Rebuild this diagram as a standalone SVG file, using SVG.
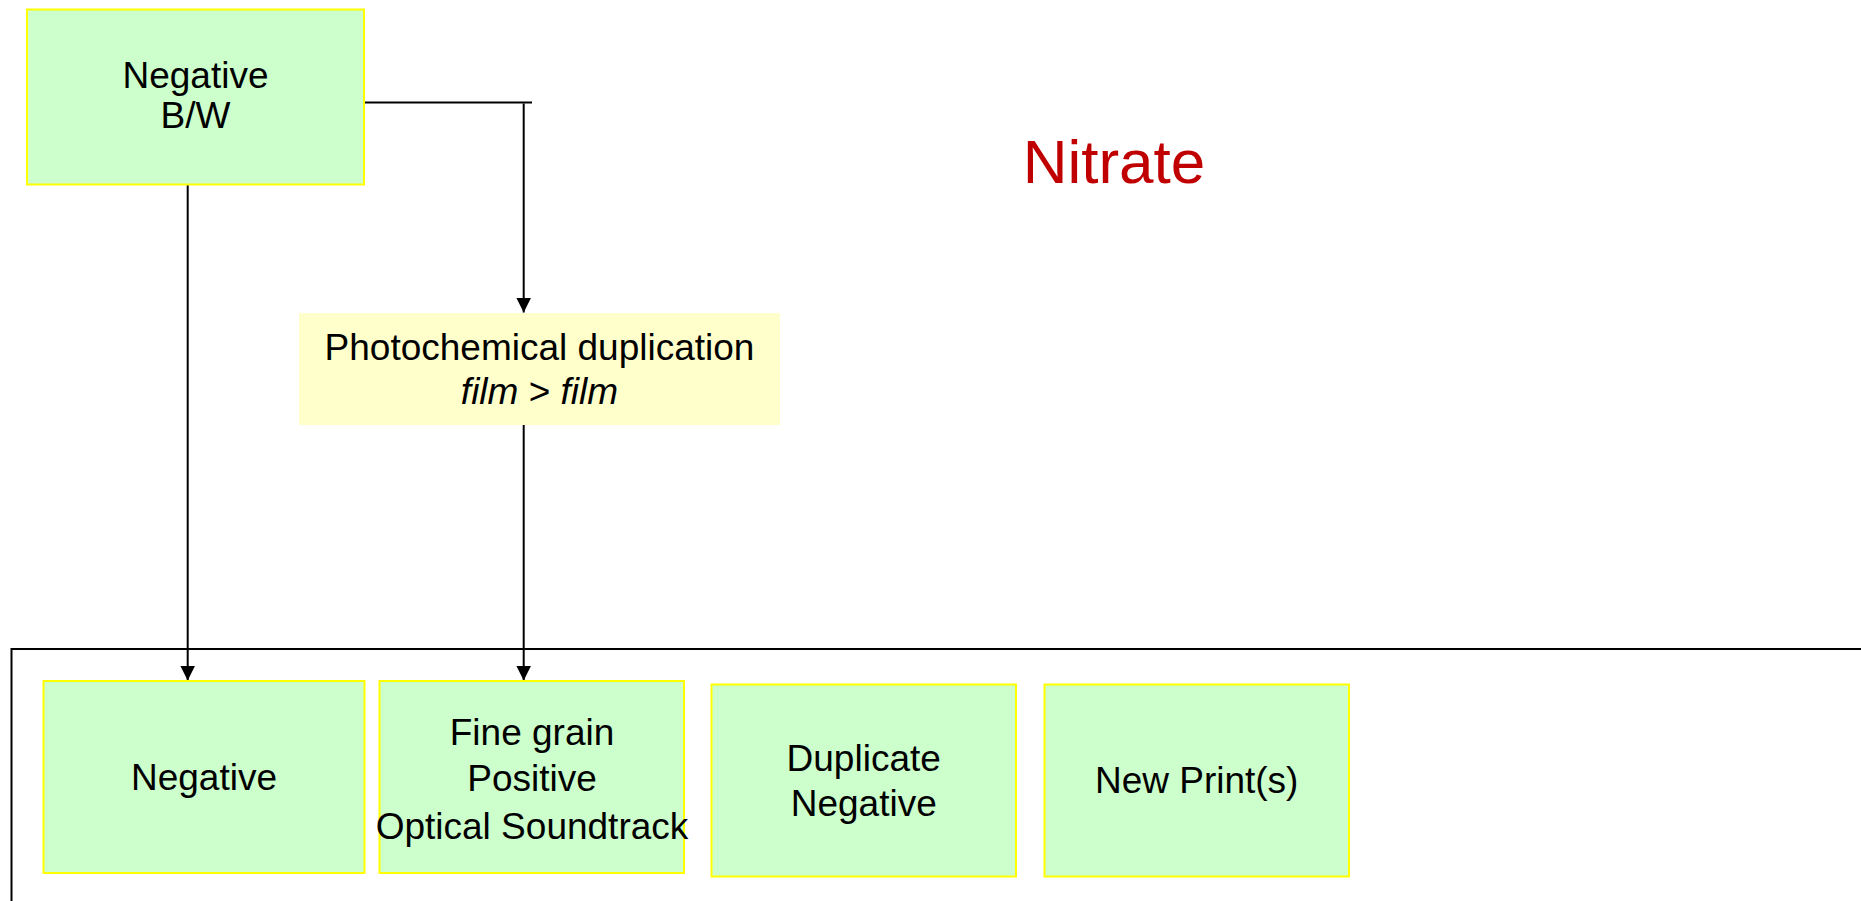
<svg xmlns="http://www.w3.org/2000/svg" width="1861" height="901" viewBox="0 0 1861 901">
  <style>
    .g { fill: #CCFFCC; stroke: #FFFF00; stroke-width: 2; }
    .y { fill: #FFFFCC; stroke: none; }
    .t { font-family: "Liberation Sans", Arial, sans-serif; font-size: 37px; fill: #000; text-anchor: middle; }
    .c { stroke: #000; stroke-width: 2; fill: none; }
    .title { font-family: "Liberation Sans", Arial, sans-serif; font-size: 62px; fill: #C00000; text-anchor: middle; }
  </style>
  <defs>
    <marker id="arr" markerUnits="userSpaceOnUse" markerWidth="15" markerHeight="15" refX="15" refY="7.5" orient="auto">
      <path d="M0,0 L15,7.5 L0,15 z" fill="#000"/>
    </marker>
  </defs>
  <rect width="1861" height="901" fill="#fff"/>

  <g id="frame">
    <rect x="11.5" y="649" width="1900" height="300" class="c"/>
  </g>

  <g id="title">
    <text x="1114" y="183" class="title">Nitrate</text>
  </g>

  <g id="connectors">
    <path d="M364,102.5 L532,102.5" class="c"/>
    <path d="M523.7,103.5 L523.7,312.5" class="c" marker-end="url(#arr)"/>
    <path d="M523.7,425 L523.7,680.5" class="c" marker-end="url(#arr)"/>
    <path d="M187.7,184 L187.7,680.5" class="c" marker-end="url(#arr)"/>
  </g>

  <g id="node-negative-bw">
    <rect x="27" y="9.5" width="337" height="175" class="g"/>
    <text x="195.5" y="88" class="t">Negative</text>
    <text x="195.5" y="128" class="t">B/W</text>
  </g>

  <g id="node-photochemical">
    <rect x="299" y="313" width="481" height="112" class="y"/>
    <text x="539.5" y="360" class="t">Photochemical duplication</text>
    <text x="539.5" y="404" class="t"><tspan font-style="italic">film</tspan> &gt; <tspan font-style="italic">film</tspan></text>
  </g>

  <g id="node-negative">
    <rect x="43.5" y="681" width="321" height="192" class="g"/>
    <text x="204" y="790" class="t">Negative</text>
  </g>

  <g id="node-finegrain">
    <rect x="379.5" y="681" width="304.5" height="192" class="g"/>
    <text x="532" y="745" class="t">Fine grain</text>
    <text x="532" y="791" class="t">Positive</text>
    <text x="532" y="839" class="t">Optical Soundtrack</text>
  </g>

  <g id="node-duplicate">
    <rect x="711.5" y="684.5" width="304.5" height="192" class="g"/>
    <text x="863.7" y="771" class="t">Duplicate</text>
    <text x="863.7" y="816" class="t">Negative</text>
  </g>

  <g id="node-newprint">
    <rect x="1044.5" y="684.5" width="304.5" height="192" class="g"/>
    <text x="1196.7" y="793" class="t">New Print(s)</text>
  </g>
</svg>
